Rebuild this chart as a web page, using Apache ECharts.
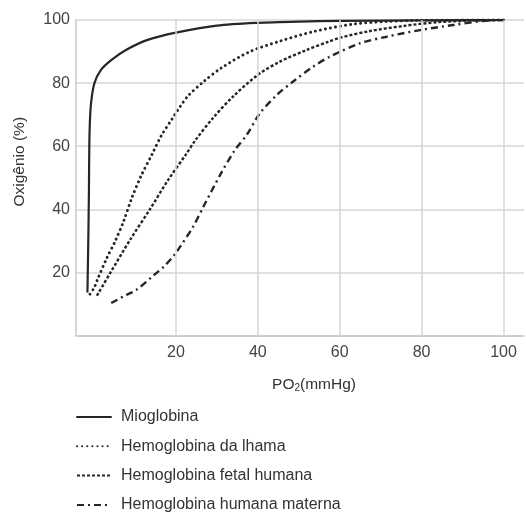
<!DOCTYPE html>
<html>
<head>
<meta charset="utf-8">
<script src="https://cdn.jsdelivr.net/npm/echarts@6/dist/echarts.min.js"></script>
<style>html,body{margin:0;padding:0;background:#fff}#c{width:526px;height:512px}</style>
</head>
<body>
<div id="c"></div>
<script>
// Series names
const seriesNames = ['Mioglobina', 'Hemoglobina da lhama', 'Hemoglobina fetal humana', 'Hemoglobina humana materna'];
// Tick labels
const xTicks = [20, 40, 60, 80, 100];
const yTicks = [20, 40, 60, 80, 100];
// Mioglobina
const mioX = [-1.6, -1.4, -1.25, -1.15, -1.0, -0.7, 0.1, 1.7, 4.2, 7.8, 13.1, 20, 30, 40, 50, 60, 80, 100];
const mioY = [13.9, 30, 45, 60, 68, 74, 80, 84.2, 87.3, 90.5, 93.7, 96.0, 98.2, 99.1, 99.5, 99.7, 99.9, 100];
// Hemoglobina da lhama
const lhamaX = [-1.0, 0.1, 0.8, 3.1, 5.1, 7.2, 9.2, 11.5, 14.2, 16.5, 19, 21, 23, 26.7, 31.2, 38.1, 45.4, 53.5, 63.3, 71.5, 80, 100];
const lhamaY = [13.1, 15.3, 17.6, 24.5, 29.7, 36.1, 43.5, 50.6, 57.5, 63.5, 68.5, 72.5, 76, 80.4, 84.9, 90.0, 93.3, 96.3, 98.7, 99.5, 99.9, 100];
// Hemoglobina fetal humana
const fetalX = [0.7, 3.9, 8.8, 13.7, 18.1, 22.5, 24.7, 29.1, 34.0, 40, 45.4, 51.9, 57.2, 60.1, 67.4, 75.5, 83.7, 92, 100];
const fetalY = [12.6, 19.7, 30.3, 40.1, 49.3, 57.5, 61.8, 69.0, 75.8, 82.6, 86.8, 90.5, 93.1, 94.4, 96.5, 98.1, 99.3, 99.8, 100];
// Hemoglobina humana materna
const maternaX = [4.2, 7.8, 10.3, 14.7, 17.2, 19.6, 21, 24.2, 26.7, 30.8, 34.4, 37.3, 40.5, 44.6, 49.1, 53.5, 57.6, 64.9, 71.5, 79.6, 87.7, 95, 100];
const maternaY = [10.3, 12.8, 14.4, 19.2, 22.0, 25.5, 28.1, 34.5, 40.8, 50.9, 58.8, 63.6, 70.4, 76.2, 81.0, 85.2, 88.4, 92.6, 94.7, 96.8, 98.4, 99.7, 100];

function pairs(xs, ys) { return xs.map((x, i) => [x, ys[i]]); }

const FONT = 'Liberation Sans, Arial, Helvetica, sans-serif';
const gridColor = '#d6d6d6';
const lineColor = '#262626';

function curve(name, xs, ys, width, type, cap) {
  return {
    name, type: 'line', data: pairs(xs, ys), showSymbol: false, symbol: 'none', z: 3,
    smooth: 0.3,
    lineStyle: { color: lineColor, width, type, cap },
    itemStyle: { color: lineColor }
  };
}

const chart = echarts.init(document.getElementById('c'), null, { renderer: 'canvas' });
chart.setOption({
  animation: false,
  backgroundColor: '#fff',
  grid: { left: 76, top: 20, right: 2, bottom: 176.5, containLabel: false },
  xAxis: {
    type: 'value', min: -4.4, max: 105,
    name: '{a|PO}{s|2}{a|(mmHg)}',
    nameLocation: 'middle', nameGap: 40,
    nameTextStyle: {
      padding: [0, 0, 0, 28],
      rich: {
        a: { fontFamily: FONT, fontSize: 15.5, color: '#333' },
        s: { fontFamily: FONT, fontSize: 10, color: '#333', verticalAlign: 'bottom', padding: [8, 0, 0, 0] }
      }
    },
    axisLine: { show: true, onZero: false, lineStyle: { color: '#c8c8c8', width: 1.5 } },
    axisTick: { show: false, customValues: xTicks },
    axisLabel: { customValues: xTicks, color: '#444', fontFamily: FONT, fontSize: 16, margin: 9 },
    splitLine: { show: false }
  },
  yAxis: {
    type: 'value', min: 0, max: 100, interval: 20,
    name: 'Oxigênio (%)',
    nameLocation: 'middle', nameGap: 48, nameRotate: 90,
    nameTextStyle: { fontFamily: FONT, fontSize: 15.5, color: '#333', padding: [0, 0, 0, 32] },
    axisLine: { show: true, onZero: false, lineStyle: { color: '#c8c8c8', width: 1.5 } },
    axisTick: { show: false },
    axisLabel: { customValues: yTicks, color: '#444', fontFamily: FONT, fontSize: 16, margin: 6 },
    splitLine: { show: true, lineStyle: { color: gridColor, width: 1.5 } }
  },
  legend: {
    orient: 'vertical', left: 71, top: 404, height: 108,
    itemWidth: 34, itemHeight: 14, itemGap: 13.3,
    itemStyle: { opacity: 0 },
    textStyle: { fontFamily: FONT, fontSize: 16, color: '#333', padding: [0, 0, 0, 5] },
    data: seriesNames
  },
  series: [
    {
      name: '_grid', type: 'line', data: [], z: 1, silent: true,
      markLine: {
        silent: true, symbol: 'none', animation: false,
        label: { show: false },
        lineStyle: { color: gridColor, width: 1.5, type: 'solid' },
        data: xTicks.map(v => ({ xAxis: v }))
      }
    },
    curve(seriesNames[0], mioX, mioY, 2.2, 'solid', 'round'),
    curve(seriesNames[1], lhamaX, lhamaY, 2.9, [0.1, 5], 'round'),
    curve(seriesNames[2], fetalX, fetalY, 2.4, [3, 2], 'butt'),
    curve(seriesNames[3], maternaX, maternaY, 2.4, [7, 4, 2, 4], 'butt')
  ]
});
</script>
</body>
</html>
